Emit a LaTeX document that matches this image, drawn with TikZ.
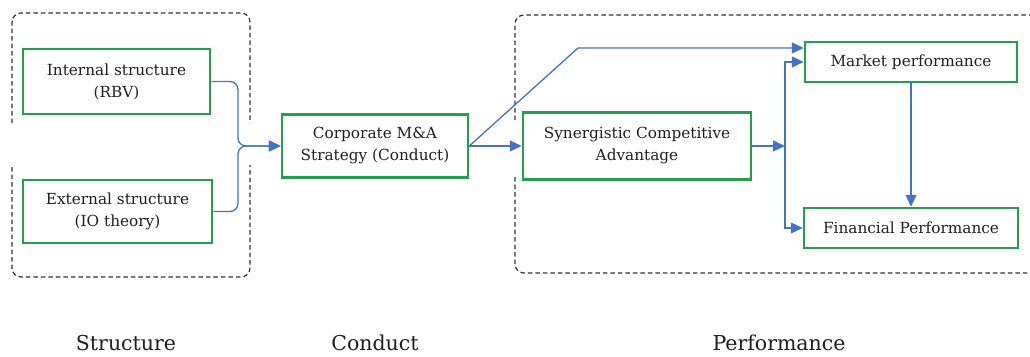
\documentclass[tikz,border=0pt]{standalone}
\usepackage{fontspec}
\setmainfont{DejaVu Serif}
\usetikzlibrary{arrows.meta}
\definecolor{boxgreen}{HTML}{22A04E}
\definecolor{arrblue}{HTML}{4472C4}
\tikzset{
  gbox/.style={draw=boxgreen, line width=2.5pt, align=center, inner sep=2pt,
    font=\fontsize{15.3}{22}\selectfont, text=black!88},
  conn/.style={draw=arrblue, line width=1.3pt},
  arr/.style={conn, -{Triangle[length=12pt,width=11pt]}},
  grp/.style={draw=black!80, line width=1.2pt, dash pattern=on 4.5pt off 3pt},
  lab/.style={font=\fontsize{20.5}{22}\selectfont, text=black!88}
}
\begin{document}
\begin{tikzpicture}[x=1pt,y=-1pt]
\useasboundingbox (0,0) rectangle (1030,356);
% dashed groups
\draw[grp, rounded corners=9pt] (12,123) -- (12,13) -- (250,13) -- (250,123);
\draw[grp, rounded corners=9pt] (12,167) -- (12,277) -- (250,277) -- (250,165);
\draw[grp, rounded corners=9pt] (515,120) -- (515,15) -- (1030,15);
\draw[grp, rounded corners=9pt] (515,177) -- (515,273) -- (1030,273);
% boxes
\node[gbox, minimum width=187pt, minimum height=65pt] (int) at (116.5,81.5) {Internal structure\\(RBV)};
\node[gbox, minimum width=189pt, minimum height=63pt] (ext) at (117.5,211.5) {External structure\\(IO theory)};
\node[gbox, minimum width=186pt, minimum height=63pt] (corp) at (375,146) {Corporate M\&A\\Strategy (Conduct)};
\node[gbox, minimum width=228pt, minimum height=67pt] (syn) at (637,146) {Synergistic Competitive\\Advantage};
\node[gbox, minimum width=212pt, minimum height=40pt] (mkt) at (911,62) {Market performance};
\node[gbox, minimum width=214pt, minimum height=40pt] (fin) at (911,228) {Financial Performance};
% coordinates
\coordinate (j1) at (238,146);
\coordinate (bend) at (578,48);
\coordinate (split) at (785,146);
% connectors
\draw[arr, rounded corners=8pt] (int.east) -| (j1) -- (corp.west);
\draw[arr, rounded corners=8pt] (ext.east) -| (j1) -- (corp.west);
\draw[arr] (corp.east) -- (syn.west);
\draw[arr] (corp.east) -- (bend) -- (bend -| mkt.west);
\draw[arr] (syn.east) -- (split);
\draw[arr] (split) |- (mkt.west);
\draw[arr] (split) |- (fin.west);
\draw[arr] (mkt.south) -- (fin.north);
% labels
\node[lab] (ls) at (126,343) {Structure};
\node[lab] (lc) at (375,343) {Conduct};
\node[lab] (lp) at (779,343) {Performance};
\end{tikzpicture}
\end{document}
